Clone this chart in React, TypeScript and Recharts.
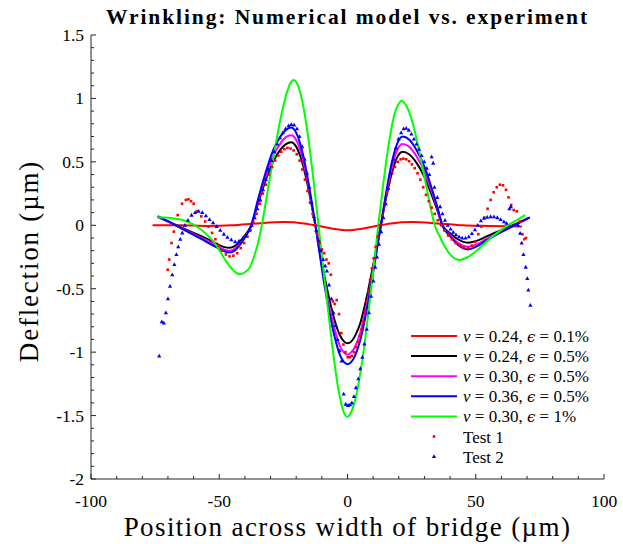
import React from 'react';
import { ComposedChart, Line, Scatter, XAxis, YAxis, Legend, Label } from 'recharts';

type Pt = [number, number];

// Model curves: [position (µm), deflection (µm)]
const modelNu024Eps01: Pt[] = [
  [-76, 0], [-65, 0.0], [-55, -0.005], [-45, 0.0], [-35, 0.015], [-25, 0.025], [-17, 0.015],
  [-10, -0.01], [-5, -0.03], [0, -0.04], [5, -0.03], [10, -0.01], [17, 0.015], [25, 0.025],
  [35, 0.015], [45, 0.0], [55, -0.005], [62, -0.008], [68, -0.01],
];

const modelNu024Eps05: Pt[] = [
  [-74, 0.065], [-70, 0.03], [-65, -0.015], [-60, -0.06], [-55, -0.105], [-51, -0.145], [-48, -0.172],
  [-46, -0.178], [-44, -0.165], [-42, -0.13], [-40, -0.08], [-37.5, 0], [-35, 0.165], [-32, 0.35],
  [-29, 0.5], [-26, 0.6], [-24, 0.64], [-22, 0.655], [-20, 0.62], [-18, 0.52], [-16, 0.36], [-14, 0.16],
  [-12.5, 0], [-11, -0.174], [-9, -0.4], [-7, -0.59], [-5, -0.75], [-3, -0.865], [-1.5, -0.913], [0, -0.93],
  [1.5, -0.915], [3, -0.87], [5, -0.77], [7, -0.61], [9, -0.42], [11, -0.21], [13, 0], [15, 0.21],
  [17, 0.39], [19, 0.52], [21.5, 0.58], [24, 0.56], [27, 0.49], [30, 0.38], [33, 0.23], [35, 0.12],
  [37, 0], [40, -0.062], [43, -0.11], [47, -0.137], [50, -0.125], [54, -0.09], [58, -0.055], [62, -0.02],
  [66, 0.015], [71, 0.06],
];

const modelNu030Eps05: Pt[] = [
  [-74, 0.068], [-70, 0.03], [-65, -0.02], [-60, -0.068], [-55, -0.118], [-51, -0.162], [-48, -0.192],
  [-46, -0.2], [-44, -0.186], [-42, -0.147], [-40, -0.09], [-37.5, 0], [-35, 0.18], [-32, 0.38],
  [-29, 0.545], [-26, 0.65], [-24, 0.695], [-22, 0.71], [-20, 0.672], [-18, 0.565], [-16, 0.39], [-14, 0.175],
  [-12.5, 0], [-11, -0.19], [-9, -0.44], [-7, -0.65], [-5, -0.82], [-3, -0.95], [-1.5, -1.0], [0, -1.02],
  [1.5, -1.0], [3, -0.955], [5, -0.845], [7, -0.67], [9, -0.46], [11, -0.23], [13, 0], [15, 0.23],
  [17, 0.43], [19, 0.575], [21.5, 0.64], [24, 0.62], [27, 0.54], [30, 0.42], [33, 0.255], [35, 0.135],
  [37, 0], [40, -0.077], [43, -0.137], [47, -0.17], [50, -0.153], [54, -0.11], [58, -0.068], [62, -0.03],
  [66, 0.01], [71, 0.06],
];

const modelNu036Eps05: Pt[] = [
  [-74, 0.072], [-70, 0.032], [-65, -0.022], [-60, -0.076], [-55, -0.13], [-51, -0.175], [-48, -0.205],
  [-46, -0.215], [-44, -0.2], [-42, -0.157], [-40, -0.097], [-37.5, 0], [-35, 0.195], [-32, 0.41],
  [-29, 0.59], [-26, 0.705], [-24, 0.752], [-22, 0.77], [-20, 0.73], [-18, 0.61], [-16, 0.425], [-14, 0.19],
  [-12.5, 0], [-11, -0.205], [-9, -0.47], [-7, -0.695], [-5, -0.88], [-3, -1.02], [-1.5, -1.075], [0, -1.095],
  [1.5, -1.077], [3, -1.025], [5, -0.905], [7, -0.72], [9, -0.495], [11, -0.25], [13, 0], [15, 0.25],
  [17, 0.47], [19, 0.625], [21.5, 0.7], [24, 0.676], [27, 0.59], [30, 0.46], [33, 0.28], [35, 0.145],
  [37, 0], [40, -0.086], [43, -0.153], [47, -0.19], [50, -0.17], [54, -0.12], [58, -0.075], [62, -0.033],
  [66, 0.01], [71, 0.062],
];

const modelNu030Eps1: Pt[] = [
  [-74, 0.063], [-69, 0.058], [-64, 0.04], [-60, 0.005], [-57, -0.035], [-54, -0.09], [-51, -0.16],
  [-48.4, -0.25], [-46, -0.32], [-44, -0.365], [-42.2, -0.386], [-40, -0.37], [-38, -0.33], [-36.5, -0.25],
  [-35, -0.15], [-33.5, -0.01], [-31.5, 0.225], [-29, 0.52], [-26.5, 0.8], [-24, 1.02], [-22.5, 1.11],
  [-21, 1.145], [-19, 1.085], [-17, 0.913], [-15, 0.646], [-13, 0.31], [-11.3, 0], [-9.5, -0.33],
  [-7.5, -0.68], [-5.5, -1.02], [-3.5, -1.3], [-1.5, -1.47], [0, -1.51], [1.5, -1.47], [3.5, -1.33],
  [5.5, -1.1], [7.5, -0.8], [9.5, -0.45], [12, 0], [14, 0.335], [16, 0.63], [18, 0.85], [19.5, 0.94],
  [21, 0.98], [23, 0.94], [25.5, 0.8], [28, 0.58], [30.5, 0.33], [32.5, 0.13], [34, 0], [36, -0.09],
  [38, -0.17], [40, -0.23], [43.5, -0.273], [47, -0.25], [51, -0.19], [55, -0.115], [59, -0.05],
  [63, 0.005], [66, 0.04], [69.3, 0.08],
];

// Measured profiles
const test1: Pt[] = [
  [-70.1, -0.35], [-69.5, -0.27], [-68.6, -0.14], [-67.7, -0.05], [-66.2, 0.08], [-64.5, 0.17], [-63, 0.2],
  [-62, 0.205], [-61, 0.19], [-60, 0.17], [-58.6, 0.11], [-57, 0.07], [-55.5, 0.03], [-54.2, -0.01],
  [-52.8, -0.06], [-51.5, -0.11], [-50.2, -0.16], [-48.8, -0.2], [-47.4, -0.23], [-46, -0.245], [-44.5, -0.24],
  [-43, -0.22], [-41.6, -0.18], [-40.3, -0.14], [-39, -0.09], [-37.8, -0.04], [-36.6, 0.02], [-35.4, 0.09],
  [-34.2, 0.17], [-33, 0.25], [-31.8, 0.32], [-30.6, 0.4], [-29.4, 0.46], [-28.2, 0.51], [-27, 0.55],
  [-25.8, 0.58], [-24.6, 0.6], [-23.4, 0.61], [-22.2, 0.605], [-21, 0.59], [-19.8, 0.56], [-18.7, 0.51],
  [-17.6, 0.44], [-16.6, 0.36], [-15.6, 0.27], [-14.6, 0.18], [-13.6, 0.09], [-12.7, 0.0], [-11.8, -0.07],
  [-10.9, -0.14], [-10, -0.19], [-9.1, -0.22], [-8.2, -0.27], [-7.3, -0.3], [-6.5, -0.39], [-5.7, -0.6],
  [-5, -0.62], [-4.2, -0.59], [-3.3, -0.7], [-2.4, -0.85], [-1.6, -0.94], [-0.8, -1.0], [0.1, -1.04],
  [0.9, -1.04], [1.7, -1.03], [2.5, -1.0], [3.3, -0.96], [4.1, -0.92], [4.9, -0.87], [5.6, -0.82],
  [6.2, -0.76], [6.8, -0.68], [7.5, -0.6], [8.1, -0.52], [8.8, -0.43], [9.5, -0.34], [10.2, -0.26],
  [11, -0.17], [11.8, -0.09], [12.6, 0.0], [13.5, 0.08], [14.4, 0.17], [15.4, 0.26], [16.4, 0.34],
  [17.4, 0.41], [18.5, 0.46], [19.6, 0.5], [20.7, 0.52], [21.8, 0.525], [22.9, 0.52], [24, 0.505],
  [25.1, 0.48], [26.2, 0.45], [27.3, 0.41], [28.4, 0.36], [29.5, 0.3], [30.6, 0.24], [31.7, 0.19],
  [32.8, 0.14], [34, 0.09], [35.2, 0.04], [36.5, 0.0], [37.8, -0.04], [39.2, -0.08], [40.7, -0.11],
  [42.2, -0.14], [43.8, -0.16], [45.4, -0.175], [47, -0.18], [48.5, -0.16], [49.8, -0.13], [51, -0.07],
  [52.2, -0.01], [53.4, 0.06], [54.6, 0.13], [55.8, 0.2], [57, 0.26], [58.2, 0.3], [59.4, 0.32],
  [60.6, 0.315], [61.8, 0.28], [62.8, 0.22], [63.8, 0.16], [64.8, 0.12], [66, 0.11], [67.2, 0.03],
  [68.2, -0.07], [69, -0.11], [69.6, -0.1],
];

const test2: Pt[] = [
  [-73.4, -1.03], [-72.4, -0.76], [-71.6, -0.77], [-70.8, -0.69], [-70, -0.58], [-69.2, -0.48], [-68.3, -0.39],
  [-67.5, -0.31], [-66.7, -0.23], [-66, -0.17], [-65.2, -0.11], [-64.4, -0.06], [-63.4, 0.0], [-62.2, 0.04],
  [-60.8, 0.08], [-59.4, 0.1], [-58, 0.11], [-56.6, 0.1], [-55.2, 0.075], [-53.8, 0.045], [-52.4, 0.02],
  [-51, -0.01], [-49.6, -0.04], [-48.2, -0.07], [-46.8, -0.095], [-45.3, -0.115], [-43.8, -0.13],
  [-42.3, -0.125], [-40.9, -0.105], [-39.6, -0.08], [-38.4, -0.04], [-37.3, 0.0], [-36.2, 0.06],
  [-35.1, 0.13], [-34, 0.2], [-32.9, 0.28], [-31.8, 0.36], [-30.7, 0.44], [-29.6, 0.51], [-28.5, 0.58],
  [-27.4, 0.64], [-26.3, 0.69], [-25.2, 0.73], [-24.1, 0.76], [-23, 0.785], [-21.9, 0.795], [-20.8, 0.79],
  [-19.7, 0.76], [-18.7, 0.7], [-17.7, 0.62], [-16.7, 0.52], [-15.8, 0.41], [-14.9, 0.3], [-14, 0.18],
  [-13.1, 0.07], [-12.2, -0.04], [-11.3, -0.12], [-10.4, -0.2], [-9.5, -0.27], [-8.7, -0.32], [-8, -0.36],
  [-7.2, -0.47], [-6.3, -0.58], [-5.5, -0.69], [-4.7, -0.79], [-3.9, -0.9], [-3.1, -0.99], [-2.3, -1.07],
  [-1.5, -1.33], [-0.7, -1.41], [0.2, -1.42], [1, -1.415], [1.7, -1.4], [2.5, -1.35], [3.3, -1.28],
  [4.2, -1.21], [5, -1.13], [5.8, -1.04], [6.6, -0.935], [7.5, -0.82], [8.4, -0.69], [9.2, -0.56],
  [10.1, -0.44], [10.8, -0.33], [11.5, -0.25], [12.3, -0.15], [13.1, -0.05], [14, 0.06], [14.9, 0.17],
  [15.9, 0.29], [16.9, 0.41], [17.9, 0.52], [18.9, 0.61], [19.9, 0.68], [20.9, 0.73], [21.9, 0.76],
  [22.9, 0.765], [23.9, 0.75], [24.9, 0.72], [25.9, 0.68], [26.9, 0.64], [27.9, 0.6], [28.9, 0.55],
  [29.9, 0.5], [30.9, 0.45], [31.9, 0.4], [32.8, 0.54], [33.4, 0.49], [33.9, 0.3], [35, 0.22],
  [36.1, 0.147], [37, 0.09], [38, 0.04], [39.1, 0.0], [40.2, -0.03], [41.2, -0.055], [42.3, -0.075],
  [43.5, -0.09], [44.7, -0.1], [46, -0.1], [47.3, -0.09], [48.5, -0.065], [49.7, -0.035], [50.8, 0.0],
  [52, 0.035], [53.2, 0.055], [54.5, 0.063], [55.8, 0.068], [57.1, 0.067], [58.4, 0.06], [59.7, 0.045],
  [61, 0.028], [62, 0.016], [63.1, 0.13], [63.7, 0.147], [66.5, 0.0], [67.3, -0.063], [67.9, -0.14],
  [68.6, -0.23], [69.5, -0.33], [70.1, -0.42], [70.5, -0.51], [71.3, -0.63],
];

const nuValues = ['0.24', '0.24', '0.30', '0.36', '0.30'];
const epsValues = ['0.1%', '0.5%', '0.5%', '0.5%', '1%'];
const modelColors = ['#ff0000', '#000000', '#ff00ff', '#0000ff', '#00ff00'];
const modelSeries = [modelNu024Eps01, modelNu024Eps05, modelNu030Eps05, modelNu036Eps05, modelNu030Eps1];
const testNames = ['Test 1', 'Test 2'];

const xTickLabels = [-100, -50, 0, 50, 100];
const yTickLabels = [-2, -1.5, -1, -0.5, 0, 0.5, 1, 1.5];
const xTicks = Array.from({ length: 21 }, (_, i) => -100 + 10 * i);
const yTicks = Array.from({ length: 36 }, (_, i) => (i - 20) / 10);

const title = 'Wrinkling: Numerical model vs. experiment';
const xTitle = 'Position across width of bridge (µm)';
const yTitle = 'Deflection (µm)';

const AXIS = '#262626';
const FONT = 'Liberation Serif, Times New Roman, serif';
const MAJOR = 5;
const MINOR = 3;

const toRows = (pts: Pt[]) => pts.map(([x, y]) => ({ x, y }));
const isMajorX = (v: number) => xTickLabels.includes(v);
const isMajorY = (v: number) => yTickLabels.some((t) => Math.abs(t - v) < 1e-9);

const BottomTick = (p: any) => {
  const v = p.payload.value;
  const major = isMajorX(v);
  return (
    <g>
      <line x1={p.x} x2={p.x} y1={p.y} y2={p.y - (major ? MAJOR : MINOR)} stroke={AXIS} strokeWidth={1} />
      {major && (
        <text x={p.x} y={p.y + 28} textAnchor="middle" style={{ fontFamily: FONT, fontSize: 17.5 }} fill="#000">
          {String(v)}
        </text>
      )}
    </g>
  );
};

const TopTick = (p: any) => {
  const major = isMajorX(p.payload.value);
  return <line x1={p.x} x2={p.x} y1={p.y} y2={p.y + (major ? MAJOR : MINOR)} stroke={AXIS} strokeWidth={1} />;
};

const LeftTick = (p: any) => {
  const v = p.payload.value;
  const major = isMajorY(v);
  return (
    <g>
      <line x1={p.x} x2={p.x + (major ? MAJOR : MINOR)} y1={p.y} y2={p.y} stroke={AXIS} strokeWidth={1} />
      {major && (
        <text x={p.x - 7} y={p.y + 6} textAnchor="end" style={{ fontFamily: FONT, fontSize: 17.5 }} fill="#000">
          {String(v)}
        </text>
      )}
    </g>
  );
};

const RightTick = (p: any) => {
  const major = isMajorY(p.payload.value);
  return <line x1={p.x} x2={p.x - (major ? MAJOR : MINOR)} y1={p.y} y2={p.y} stroke={AXIS} strokeWidth={1} />;
};

const RedSquare = (p: any) => (
  <rect x={p.cx - 1.3} y={p.cy - 1.3} width={2.6} height={2.6} fill="#ff0000" />
);

const BlueTriangle = (p: any) => (
  <polygon
    points={`${p.cx},${p.cy - 2.3} ${p.cx + 2.1},${p.cy + 1.5} ${p.cx - 2.1},${p.cy + 1.5}`}
    fill="#0000ff"
  />
);

const LegendBox = () => {
  const rowH = 20.1;
  const rows = modelColors.length + testNames.length;
  return (
    <svg width={200} height={rows * rowH + 4} style={{ display: 'block' }}>
      {modelColors.map((c, i) => {
        const cy = 12 + i * rowH;
        return (
          <g key={`m${i}`}>
            <line x1={6} x2={52} y1={cy} y2={cy} stroke={c} strokeWidth={2} />
            <text x={58} y={cy + 6} style={{ fontFamily: FONT, fontSize: 17 }} fill="#000">
              <tspan fontStyle="italic">ν</tspan>
              {` = ${nuValues[i]}, `}
              <tspan fontStyle="italic" style={{ fontFamily: 'DejaVu Serif, serif', fontSize: 15 }}>ϵ</tspan>
              {` = ${epsValues[i]}`}
            </text>
          </g>
        );
      })}
      {testNames.map((name, j) => {
        const cy = 12 + (modelColors.length + j) * rowH;
        return (
          <g key={`t${j}`}>
            {j === 0 ? <RedSquare cx={29} cy={cy} /> : <BlueTriangle cx={29} cy={cy} />}
            <text x={58} y={cy + 6} style={{ fontFamily: FONT, fontSize: 17 }} fill="#000">
              {name}
            </text>
          </g>
        );
      })}
    </svg>
  );
};

export default function App() {
  return (
    <div style={{ position: 'absolute', left: 0, top: 0, width: 623, height: 544, background: '#fff' }}>
      <ComposedChart width={623} height={544} margin={{ top: 35, right: 19, bottom: 35, left: 41 }}>
        <text
          x={347.5}
          y={24}
          textAnchor="middle"
          style={{ fontFamily: FONT, fontSize: 21.5, fontWeight: 'bold', letterSpacing: 1.9 }}
          fill="#000"
        >
          {title}
        </text>
        <XAxis
          xAxisId="b"
          dataKey="x"
          type="number"
          orientation="bottom"
          domain={[-100, 100]}
          ticks={xTicks}
          interval={0}
          allowDataOverflow
          height={30}
          tickSize={0}
          tickMargin={0}
          tickLine={false}
          tick={<BottomTick />}
          axisLine={{ stroke: AXIS, strokeWidth: 1 }}
        >
          <Label
            content={(props: any) => {
              const vb = props.viewBox;
              return (
                <text
                  x={vb.x + vb.width / 2}
                  y={vb.y + 57}
                  textAnchor="middle"
                  style={{ fontFamily: FONT, fontSize: 27, letterSpacing: 1.4 }}
                  fill="#000"
                >
                  {xTitle}
                </text>
              );
            }}
          />
        </XAxis>
        <XAxis
          xAxisId="t"
          dataKey="x"
          type="number"
          orientation="top"
          domain={[-100, 100]}
          ticks={xTicks}
          interval={0}
          allowDataOverflow
          height={0}
          tickSize={0}
          tickMargin={0}
          tickLine={false}
          tick={<TopTick />}
          axisLine={{ stroke: AXIS, strokeWidth: 1 }}
        />
        <YAxis
          yAxisId="l"
          dataKey="y"
          type="number"
          orientation="left"
          domain={[-2, 1.5]}
          ticks={yTicks}
          interval={0}
          allowDataOverflow
          width={50}
          tickSize={0}
          tickMargin={0}
          tickLine={false}
          tick={<LeftTick />}
          axisLine={{ stroke: AXIS, strokeWidth: 1 }}
        >
          <Label
            content={(props: any) => {
              const vb = props.viewBox;
              const cx = vb.x - 3;
              const cy = vb.y + vb.height / 2 + 4;
              return (
                <text
                  x={cx}
                  y={cy}
                  transform={`rotate(-90, ${cx}, ${cy})`}
                  textAnchor="middle"
                  style={{ fontFamily: FONT, fontSize: 27, letterSpacing: 1.8 }}
                  fill="#000"
                >
                  {yTitle}
                </text>
              );
            }}
          />
        </YAxis>
        <YAxis
          yAxisId="r"
          dataKey="y"
          type="number"
          orientation="right"
          domain={[-2, 1.5]}
          ticks={yTicks}
          interval={0}
          allowDataOverflow
          width={0}
          tickSize={0}
          tickMargin={0}
          tickLine={false}
          tick={<RightTick />}
          axisLine={{ stroke: AXIS, strokeWidth: 1 }}
        />

        {modelSeries.map((pts, i) => (
          <Line
            key={`model-${i}`}
            xAxisId="b"
            yAxisId="l"
            data={toRows(pts)}
            dataKey="y"
            type="monotone"
            stroke={modelColors[i]}
            strokeWidth={2}
            dot={false}
            activeDot={false}
            isAnimationActive={false}
            name={`ν = ${nuValues[i]}, ϵ = ${epsValues[i]}`}
          />
        ))}
        <Scatter
          xAxisId="b"
          yAxisId="l"
          data={toRows(test1)}
          dataKey="y"
          shape={<RedSquare />}
          isAnimationActive={false}
          name={testNames[0]}
        />
        <Scatter
          xAxisId="b"
          yAxisId="l"
          data={toRows(test2)}
          dataKey="y"
          shape={<BlueTriangle />}
          isAnimationActive={false}
          name={testNames[1]}
        />
        <Legend
          layout="vertical"
          align="center"
          verticalAlign="middle"
          content={() => <LegendBox />}
          wrapperStyle={{ left: 405, top: 324, width: 200, height: 150 }}
        />
      </ComposedChart>
    </div>
  );
}
